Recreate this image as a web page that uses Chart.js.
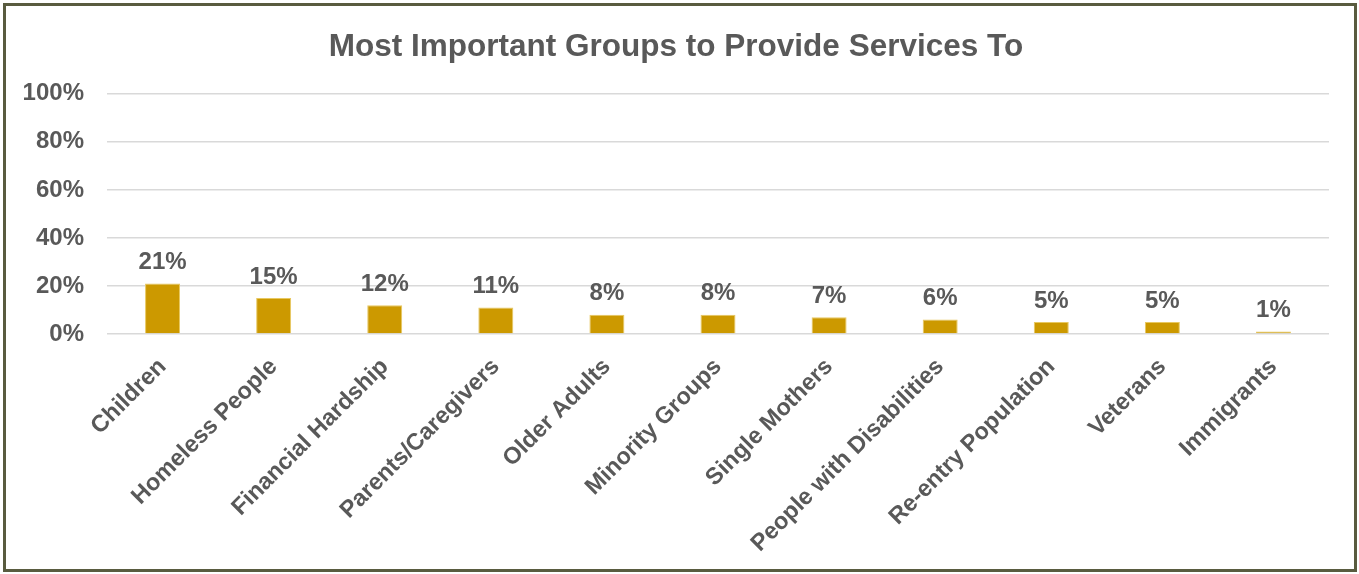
<!DOCTYPE html>
<html>
<head>
<meta charset="utf-8">
<script src="https://cdn.jsdelivr.net/npm/chart.js@4.4.1/dist/chart.umd.min.js"></script>
<style>
  html, body { margin: 0; padding: 0; background: #fff; }
  .frame {
    position: absolute; left: 3px; top: 3px;
    width: 1348px; height: 563px;
    border: 3px solid #595b3f; background: #fff;
  }
  canvas { display: block; }
</style>
</head>
<body>
<div class="frame">
  <canvas id="groupsChart" width="1348" height="563"></canvas>
</div>
<script>
// groups in the order they appear
const groups = [
  "Children", "Homeless People", "Financial Hardship", "Parents/Caregivers",
  "Older Adults", "Minority Groups", "Single Mothers", "People with Disabilities",
  "Re-entry Population", "Veterans", "Immigrants"
];
// percent of responses
const shares = [21, 15, 12, 11, 8, 8, 7, 6, 5, 5, 1];
const yTicks = [0, 20, 40, 60, 80, 100];

const textGray = "#595959";
const gold = "#cc9900";
const fontFamily = "'Liberation Sans', Arial, sans-serif";

// draws the % above each bar
const barLabels = {
  id: "barLabels",
  afterDatasetsDraw(chart) {
    const ctx = chart.ctx;
    const meta = chart.getDatasetMeta(0);
    ctx.save();
    ctx.font = "bold 24px " + fontFamily;
    ctx.fillStyle = textGray;
    ctx.textAlign = "center";
    ctx.textBaseline = "bottom";
    meta.data.forEach((bar, i) => {
      ctx.fillText(shares[i] + "%", bar.x, bar.y - 9);
    });
    ctx.restore();
  }
};

new Chart(document.getElementById("groupsChart"), {
  type: "bar",
  data: {
    labels: groups,
    datasets: [{
      data: shares,
      backgroundColor: gold,
      borderColor: "#e8c860",
      borderWidth: 1,
      categoryPercentage: 1,
      barPercentage: 0.315
    }]
  },
  options: {
    responsive: false,
    animation: false,
    layout: { padding: { left: 17, right: 25, top: 0, bottom: 0 } },
    plugins: {
      legend: { display: false },
      tooltip: { enabled: false },
      title: {
        display: true,
        text: "Most Important Groups to Provide Services To",
        color: textGray,
        font: { family: fontFamily, size: 31.5, weight: "bold" },
        padding: { top: 22, bottom: 28 }
      }
    },
    scales: {
      x: {
        grid: { display: false, drawTicks: false },
        border: { display: false },
        afterFit(scale) { scale.height = 235; },
        ticks: {
          color: textGray,
          font: { family: fontFamily, size: 23.5, weight: "bold" },
          minRotation: 45,
          maxRotation: 45,
          padding: 19,
          autoSkip: false
        }
      },
      y: {
        min: 0,
        max: 100,
        afterBuildTicks(scale) {
          scale.ticks = yTicks.map(v => ({ value: v }));
        },
        afterFit(scale) { scale.width = 84; },
        grid: { color: "#d9d9d9", lineWidth: 1.5, drawTicks: false },
        border: { display: false },
        ticks: {
          color: textGray,
          font: { family: fontFamily, size: 24, weight: "bold" },
          padding: 23,
          callback: v => v + "%"
        }
      }
    }
  },
  plugins: [barLabels]
});
</script>
</body>
</html>
